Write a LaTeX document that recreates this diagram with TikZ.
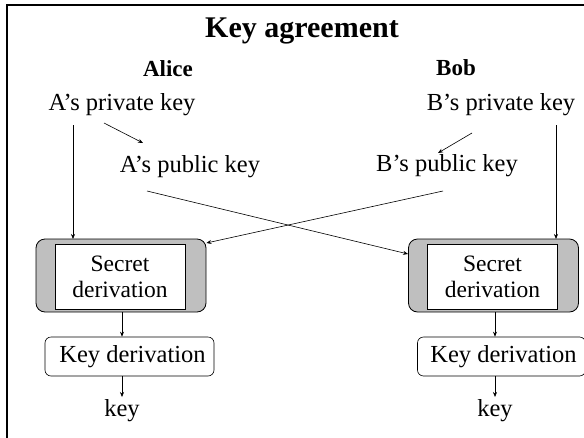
\documentclass[tikz,border=0pt]{standalone}
\usepackage{fontspec}
\setmainfont{Liberation Serif}
\usetikzlibrary{arrows.meta}
\begin{document}
\begin{tikzpicture}[x=1pt,y=-1pt,
  lbl/.style={inner sep=0pt,font=\fontsize{24.5}{26}\selectfont},
  hdr/.style={inner sep=0pt,font=\fontsize{23}{25}\selectfont\bfseries},
  arr/.style={-{Stealth[length=5pt,width=4pt]},line width=0.6pt},
  outerbox/.style={draw,line width=0.8pt,fill=gray!50,rounded corners=9pt,minimum width=170pt,minimum height=73pt},
  innerbox/.style={draw,line width=0.8pt,fill=white,minimum width=130pt,minimum height=65pt,align=center,font=\fontsize{23.5}{26}\selectfont,inner sep=0pt},
  kdbox/.style={draw,line width=0.6pt,rounded corners=6pt,minimum height=39pt,font=\fontsize{24.5}{26}\selectfont,inner sep=0pt}
]
\useasboundingbox (0,0) rectangle (584,437);
\draw[line width=2pt] (7,460) -- (7,5) -- (600,5);
\node[inner sep=0pt,font=\fontsize{30}{32}\selectfont\bfseries] (title) at (302,31) {Key agreement};
\node[hdr] (alice) at (168,69) {Alice};
\node[hdr] (bob) at (456,68) {Bob};
\node[lbl] (apriv) at (122,105) {A’s private key};
\node[lbl] (bpriv) at (501,105) {B’s private key};
\node[lbl] (apub) at (190,167) {A’s public key};
\node[lbl] (bpub) at (447,166) {B’s public key};
% secret derivation boxes
\node[outerbox] (aout) at (121,275.5) {};
\node[innerbox] (ain) at (120,276.5) {Secret\\derivation};
\node[outerbox] (bout) at (493.5,275.5) {};
\node[innerbox] (bin) at (492.5,276.5) {Secret\\derivation};
% key derivation
\node[kdbox,minimum width=169pt] (akd) at (129.5,356.5) {\hspace{6pt}Key derivation};
\node[kdbox,minimum width=168pt] (bkd) at (501.5,356.5) {\hspace{4pt}Key derivation};
\node[lbl] (akey) at (122,411) {key};
\node[lbl] (bkey) at (495,411) {key};
% connectors
\coordinate (a1) at (104,123);
\coordinate (a2) at (143,143);
\draw[arr] (a1) -- (a2);
\coordinate (b1) at (472,133);
\coordinate (b2) at (438,153);
\draw[arr] (b1) -- (b2);
\coordinate (av) at (73,125);
\draw[arr] (av) -- (73,239);
\coordinate (bv) at (556,125);
\draw[arr] (bv) -- (556,239);
\coordinate (ax) at (147,191);
\draw[arr] (ax) -- (bout.west |- 0,254);
\coordinate (bx) at (443,191);
\draw[arr] (bx) -- (aout.east |- 0,243);
\draw[arr] (aout.south -| akey) -- (akd.north -| akey);
\draw[arr] (bout.south -| bkey) -- (bkd.north -| bkey);
\draw[arr] (akd.south -| akey) -- (122,397);
\draw[arr] (bkd.south -| bkey) -- (495,397);
\end{tikzpicture}
\end{document}
